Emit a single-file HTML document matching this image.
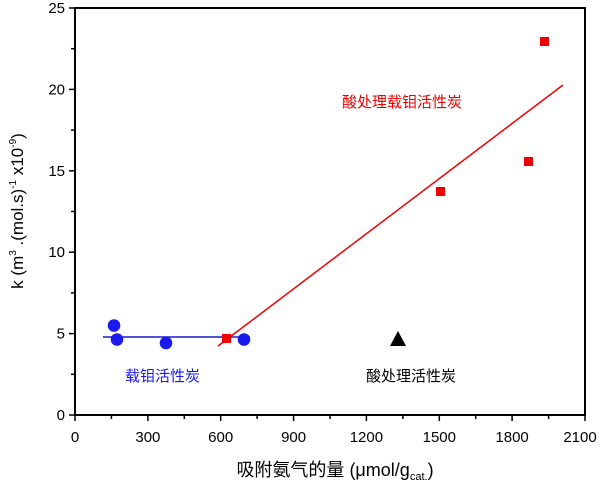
<!DOCTYPE html>
<html><head><meta charset="utf-8"><style>body{margin:0;background:#fff}svg{display:block}text{font-family:"Liberation Sans","Noto Sans CJK SC",sans-serif}</style></head><body>
<svg width="600" height="483" viewBox="0 0 600 483">
<rect x="75" y="8" width="510" height="407" fill="none" stroke="#000" stroke-width="2"/>
<g stroke="#000" stroke-width="1.5">
<line x1="75" y1="415" x2="75" y2="421"/><line x1="147.9" y1="415" x2="147.9" y2="421"/><line x1="220.7" y1="415" x2="220.7" y2="421"/><line x1="293.6" y1="415" x2="293.6" y2="421"/><line x1="366.4" y1="415" x2="366.4" y2="421"/><line x1="439.3" y1="415" x2="439.3" y2="421"/><line x1="512.1" y1="415" x2="512.1" y2="421"/><line x1="585" y1="415" x2="585" y2="421"/>
<line x1="111.4" y1="415" x2="111.4" y2="419"/><line x1="184.3" y1="415" x2="184.3" y2="419"/><line x1="257.1" y1="415" x2="257.1" y2="419"/><line x1="330" y1="415" x2="330" y2="419"/><line x1="402.9" y1="415" x2="402.9" y2="419"/><line x1="475.7" y1="415" x2="475.7" y2="419"/><line x1="548.6" y1="415" x2="548.6" y2="419"/>
<line x1="69" y1="415" x2="75" y2="415"/><line x1="69" y1="333.6" x2="75" y2="333.6"/><line x1="69" y1="252.2" x2="75" y2="252.2"/><line x1="69" y1="170.8" x2="75" y2="170.8"/><line x1="69" y1="89.4" x2="75" y2="89.4"/><line x1="69" y1="8" x2="75" y2="8"/>
<line x1="71" y1="374.3" x2="75" y2="374.3"/><line x1="71" y1="292.9" x2="75" y2="292.9"/><line x1="71" y1="211.5" x2="75" y2="211.5"/><line x1="71" y1="130.1" x2="75" y2="130.1"/><line x1="71" y1="48.7" x2="75" y2="48.7"/>
</g>
<g font-size="15" text-anchor="middle" fill="#000">
<text x="75" y="442">0</text><text x="147.9" y="442">300</text><text x="220.7" y="442">600</text><text x="293.6" y="442">900</text><text x="366.4" y="442">1200</text><text x="439.3" y="442">1500</text><text x="512.1" y="442">1800</text><text x="580" y="442">2100</text>
</g>
<g font-size="15" text-anchor="end">
<text x="65" y="420">0</text><text x="65" y="338.6">5</text><text x="65" y="257.2">10</text><text x="65" y="175.8">15</text><text x="65" y="94.4">20</text><text x="65" y="13">25</text>
</g>
<text x="335" y="476" font-size="18" text-anchor="middle">吸附氨气的量 (μmol/g<tspan font-size="11" dy="4">cat.</tspan><tspan dy="-4">)</tspan></text>
<text transform="translate(23,211) rotate(-90)" font-size="17" text-anchor="middle">k (m<tspan font-size="10" dy="-7">3</tspan><tspan dy="7"> .(mol.s)</tspan><tspan font-size="10" dy="-7">-1</tspan><tspan dy="7"> x10</tspan><tspan font-size="10" dy="-7">-9</tspan><tspan dy="7">)</tspan></text>
<line x1="103" y1="337" x2="250" y2="337" stroke="#1a1acc" stroke-width="1.5"/>
<line x1="218" y1="346" x2="563" y2="85" stroke="#e00" stroke-width="1.5"/>
<g fill="#1a1aee"><circle cx="114" cy="325.5" r="6.3"/><circle cx="117" cy="339.5" r="6.3"/><circle cx="166" cy="343" r="6.3"/><circle cx="244" cy="339.5" r="6.3"/></g>
<g fill="#e00"><rect x="222" y="334" width="9" height="9"/><rect x="436" y="187" width="9" height="9"/><rect x="524" y="157" width="9" height="9"/><rect x="540" y="37" width="9" height="9"/></g>
<polygon points="398,331 406,346 390,346" fill="#000"/>
<text x="125" y="381" font-size="15" fill="#1a1aee">载钼活性炭</text>
<text x="366" y="381" font-size="15" fill="#000">酸处理活性炭</text>
<text x="342" y="107" font-size="15" fill="#e00">酸处理载钼活性炭</text>
</svg>
</body></html>
